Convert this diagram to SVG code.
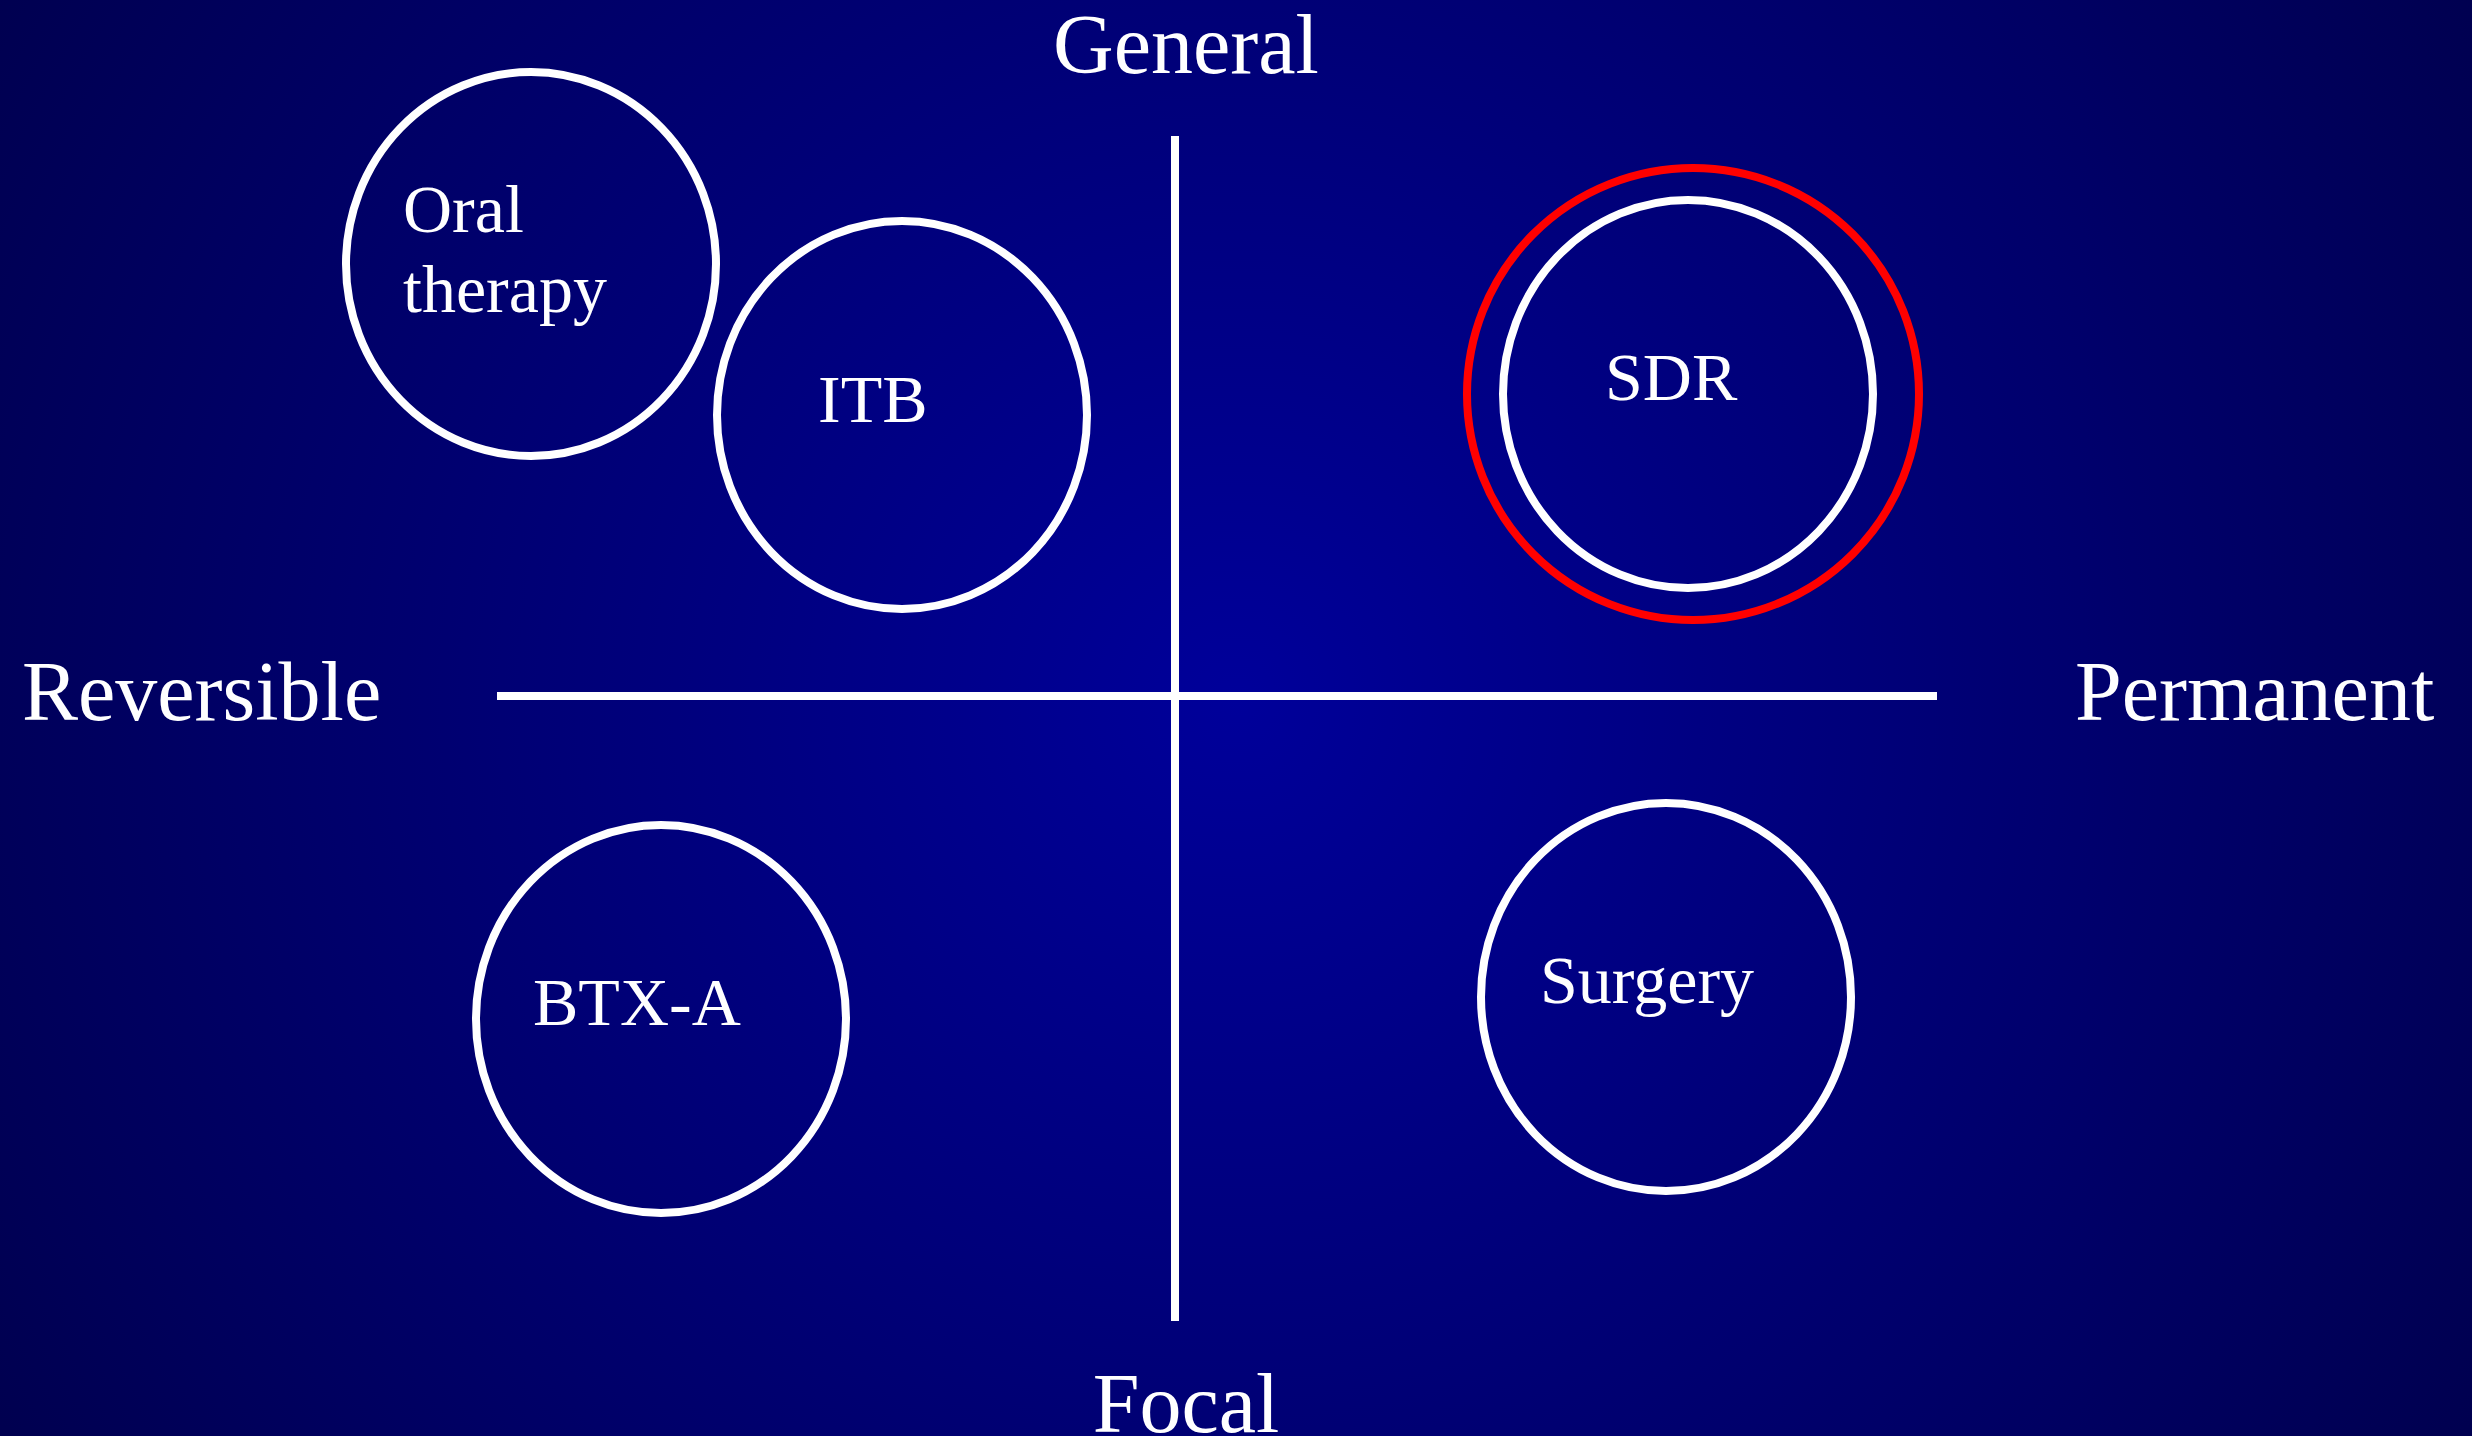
<svg xmlns="http://www.w3.org/2000/svg" width="2472" height="1436" viewBox="0 0 2472 1436">
<defs>
<radialGradient id="bg" gradientUnits="userSpaceOnUse" cx="1236" cy="700" r="1430">
<stop offset="0" stop-color="#00009A"/>
<stop offset="1" stop-color="#000050"/>
</radialGradient>
</defs>
<style>
.t{font-family:"Liberation Serif","Times New Roman",serif;fill:#FFFFFF}
.ax{font-size:84px}
.lb{font-size:68px}
.node ellipse{fill:none;stroke:#FFFFFF;stroke-width:8}
.axis{stroke:#FFFFFF;stroke-width:8}
</style>
<rect x="0" y="0" width="2472" height="1436" fill="url(#bg)"/>
<g id="axes">
<line class="axis" x1="1175" y1="136" x2="1175" y2="1321"/>
<line class="axis" x1="497" y1="696" x2="1937" y2="696"/>
</g>
<g id="axis-labels">
<text class="t ax" x="1186" y="73" text-anchor="middle">General</text>
<text class="t ax" x="1186" y="1432" text-anchor="middle">Focal</text>
<text class="t ax" x="22" y="720">Reversible</text>
<text class="t ax" x="2075" y="720" font-size="85">Permanent</text>
</g>
<g id="oral" class="node">
<ellipse cx="531" cy="264" rx="185" ry="192"/>
<text class="t lb" x="403" y="232">Oral</text>
<text class="t lb" x="403" y="312">therapy</text>
</g>
<g id="itb" class="node">
<ellipse cx="902" cy="415" rx="185" ry="194"/>
<text class="t lb" x="818" y="422">ITB</text>
</g>
<g id="sdr" class="node">
<circle cx="1693" cy="394" r="226" fill="none" stroke="#FF0000" stroke-width="8"/>
<ellipse cx="1688" cy="394" rx="185" ry="194"/>
<text class="t lb" x="1605" y="400">SDR</text>
</g>
<g id="btx" class="node">
<ellipse cx="661" cy="1019" rx="185" ry="194"/>
<text class="t lb" x="533" y="1025">BTX-A</text>
</g>
<g id="surgery" class="node">
<ellipse cx="1666" cy="997" rx="185" ry="194"/>
<text class="t lb" x="1540" y="1003">Surgery</text>
</g>
</svg>
